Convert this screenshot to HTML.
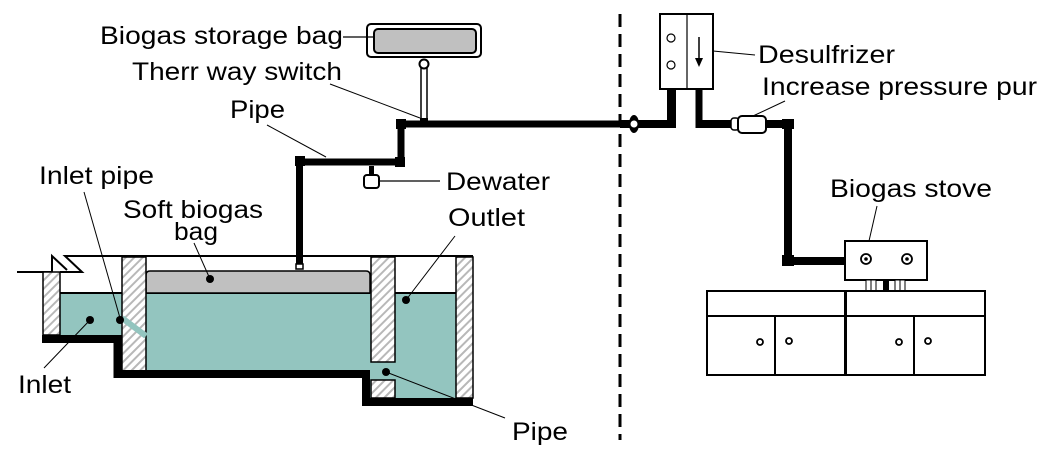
<!DOCTYPE html>
<html><head><meta charset="utf-8"><style>
html,body{margin:0;padding:0;background:#fff;}
svg{display:block;}
text{font-family:"Liberation Sans",Arial,sans-serif;font-size:25px;fill:#000;}
</style></head><body>
<svg width="1053" height="467" viewBox="0 0 1053 467" xmlns="http://www.w3.org/2000/svg">
<defs>
<pattern id="h" width="6" height="6" patternUnits="userSpaceOnUse" patternTransform="rotate(45)">
<rect width="6" height="6" fill="#fff"/><rect width="2" height="6" fill="#b8b8b8"/>
</pattern>
</defs>
<!-- tank -->
<polyline points="473,256 65,256 82,272 60,272" fill="none" stroke="#000" stroke-width="2"/>
<polyline points="17,272 52,272 52,256 67,270" fill="none" stroke="#000" stroke-width="2"/>
<rect x="60" y="293" width="62" height="42" fill="#93c5bf"/>
<rect x="146" y="293" width="224" height="78" fill="#93c5bf"/>
<rect x="370" y="293" width="86" height="105" fill="#93c5bf"/>
<line x1="60" y1="293" x2="122" y2="293" stroke="#000" stroke-width="2"/>
<line x1="146" y1="293" x2="370" y2="293" stroke="#000" stroke-width="2"/>
<line x1="395" y1="293" x2="456" y2="293" stroke="#000" stroke-width="2"/>
<path d="M146,293 V275 Q146,271 150,271 H366 Q370,271 370,275 V293 Z" fill="#c0c0c0" stroke="#000" stroke-width="1.5"/>
<rect x="43" y="272" width="17" height="63" fill="url(#h)" stroke="#000" stroke-width="1.5"/>
<rect x="122" y="257" width="24" height="114" fill="url(#h)" stroke="#000" stroke-width="1.5"/>
<rect x="371" y="257" width="24" height="105" fill="url(#h)" stroke="#000" stroke-width="1.5"/>
<rect x="371" y="380" width="24" height="18" fill="url(#h)" stroke="#000" stroke-width="1.5"/>
<rect x="456" y="257" width="17" height="141" fill="url(#h)" stroke="#000" stroke-width="1.5"/>
<line x1="122" y1="318" x2="146" y2="336" stroke="#93c5bf" stroke-width="6"/>
<polyline points="42,339 117.5,339 117.5,374 366,374 366,402 473,402" fill="none" stroke="#000" stroke-width="8"/>
<!-- dots -->
<g fill="#000"><circle cx="90" cy="320" r="4"/><circle cx="120" cy="320" r="4"/><circle cx="210" cy="279" r="4"/><circle cx="406" cy="300" r="4"/><circle cx="386" cy="372" r="4"/></g>
<!-- pipes left -->
<polyline points="299.5,268 299.5,162 401,162 401,124 620,124" fill="none" stroke="#000" stroke-width="7"/>
<rect x="295" y="156" width="10" height="10"/><rect x="396" y="119" width="10" height="10"/><rect x="395" y="157" width="10" height="10"/>
<rect x="296" y="264" width="7" height="5" fill="#fff" stroke="#000" stroke-width="1.5"/>
<line x1="371.5" y1="166" x2="371.5" y2="176" stroke="#000" stroke-width="5"/>
<rect x="364" y="175" width="15" height="13" rx="3" fill="#fff" stroke="#000" stroke-width="2"/>
<line x1="380" y1="181" x2="440" y2="181" stroke="#000" stroke-width="1.2"/>
<!-- storage bag -->
<rect x="367" y="24" width="114" height="33" rx="4" fill="#fff" stroke="#000" stroke-width="2"/>
<rect x="374" y="29" width="102" height="24" rx="4" fill="#c0c0c0" stroke="#000" stroke-width="2"/>
<rect x="421" y="68" width="6" height="52" fill="#fff" stroke="#000" stroke-width="1.5"/>
<circle cx="424" cy="64" r="4.5" fill="#fff" stroke="#000" stroke-width="2"/>
<rect x="420" y="118" width="8" height="6"/>
<line x1="343" y1="37" x2="374" y2="37" stroke="#000" stroke-width="1.2"/>
<!-- dashed -->
<line x1="620" y1="14" x2="620" y2="440" stroke="#000" stroke-width="3" stroke-dasharray="13,7"/>
<!-- right pipes -->
<line x1="620" y1="124" x2="672" y2="124" stroke="#000" stroke-width="8"/>
<ellipse cx="634" cy="124" rx="5" ry="9" fill="#000"/><circle cx="634" cy="124" r="3.5" fill="#fff"/>
<line x1="671.5" y1="89" x2="671.5" y2="128" stroke="#000" stroke-width="9"/>
<line x1="699" y1="89" x2="699" y2="128" stroke="#000" stroke-width="7"/>
<line x1="696" y1="124" x2="735" y2="124" stroke="#000" stroke-width="8"/>
<rect x="731" y="118" width="8" height="12" rx="3" fill="#fff" stroke="#000" stroke-width="1.5"/>
<rect x="738" y="116" width="28" height="17" rx="4" fill="#fff" stroke="#000" stroke-width="2"/>
<polyline points="766,124 788,124 788,261 845,261" fill="none" stroke="#000" stroke-width="8"/>
<rect x="782" y="119" width="12" height="10"/><rect x="782" y="255" width="12" height="11"/>
<!-- desulfrizer -->
<rect x="660" y="14" width="53" height="75" fill="#fff" stroke="#000" stroke-width="2"/>
<line x1="687" y1="14" x2="687" y2="89" stroke="#000" stroke-width="1.2"/>
<circle cx="671" cy="38" r="4" fill="none" stroke="#000" stroke-width="1.2"/>
<circle cx="671" cy="65" r="4" fill="none" stroke="#000" stroke-width="1.2"/>
<line x1="699" y1="37" x2="699" y2="62" stroke="#000" stroke-width="1.5"/>
<polygon points="695,58 703,58 699,67"/>
<line x1="713" y1="51" x2="755" y2="55" stroke="#000" stroke-width="1"/>
<line x1="753" y1="116" x2="785" y2="101" stroke="#000" stroke-width="1"/>
<!-- stove -->
<rect x="845" y="241" width="82" height="39" fill="#fff" stroke="#000" stroke-width="2"/>
<circle cx="866" cy="259" r="5" fill="none" stroke="#000" stroke-width="1.8"/><circle cx="866" cy="259" r="1.8"/>
<circle cx="907" cy="259" r="5" fill="none" stroke="#000" stroke-width="1.8"/><circle cx="907" cy="259" r="1.8"/>
<g fill="#fff" stroke="#000" stroke-width="1"><rect x="866" y="280" width="5" height="11"/><rect x="871" y="280" width="5" height="11"/><rect x="895" y="280" width="5" height="11"/><rect x="900" y="280" width="5" height="11"/></g>
<rect x="883" y="280" width="6" height="11"/>
<line x1="877" y1="206" x2="869" y2="241" stroke="#000" stroke-width="1"/>
<!-- cabinet -->
<rect x="707" y="291" width="278" height="84" fill="#fff" stroke="#000" stroke-width="2"/>
<line x1="707" y1="316" x2="985" y2="316" stroke="#000" stroke-width="2"/>
<line x1="845.5" y1="291" x2="845.5" y2="375" stroke="#000" stroke-width="3"/>
<line x1="775" y1="316" x2="775" y2="375" stroke="#000" stroke-width="2"/>
<line x1="914" y1="316" x2="914" y2="375" stroke="#000" stroke-width="2"/>
<g fill="none" stroke="#000" stroke-width="1.8"><circle cx="760" cy="342" r="3"/><circle cx="789" cy="341" r="3"/><circle cx="899" cy="342" r="3"/><circle cx="928" cy="341" r="3"/></g>
<!-- leader lines -->
<g stroke="#000" stroke-width="1" fill="none">
<line x1="330" y1="84" x2="420" y2="118"/>
<line x1="267" y1="125" x2="326" y2="157"/>
<line x1="84" y1="192" x2="120" y2="318"/>
<line x1="194" y1="243" x2="210" y2="279"/>
<line x1="455" y1="236" x2="406" y2="300"/>
<line x1="44" y1="368" x2="90" y2="320"/>
<line x1="386" y1="372" x2="505" y2="418"/>
</g>
<!-- text -->
<text x="100" y="44" textLength="243" lengthAdjust="spacingAndGlyphs">Biogas storage bag</text>
<text x="132" y="80" textLength="210" lengthAdjust="spacingAndGlyphs">Therr way switch</text>
<text x="230" y="118" textLength="55" lengthAdjust="spacingAndGlyphs">Pipe</text>
<text x="39" y="184" textLength="115" lengthAdjust="spacingAndGlyphs">Inlet pipe</text>
<text x="123" y="218" textLength="140" lengthAdjust="spacingAndGlyphs">Soft biogas</text>
<text x="174" y="240" textLength="44" lengthAdjust="spacingAndGlyphs">bag</text>
<text x="446" y="190" textLength="104" lengthAdjust="spacingAndGlyphs">Dewater</text>
<text x="448" y="226" textLength="77" lengthAdjust="spacingAndGlyphs">Outlet</text>
<text x="18" y="393" textLength="53" lengthAdjust="spacingAndGlyphs">Inlet</text>
<text x="512" y="440" textLength="56" lengthAdjust="spacingAndGlyphs">Pipe</text>
<text x="758" y="63" textLength="137" lengthAdjust="spacingAndGlyphs">Desulfrizer</text>
<text x="762" y="95" textLength="275" lengthAdjust="spacingAndGlyphs">Increase pressure pur</text>
<text x="830" y="197" textLength="162" lengthAdjust="spacingAndGlyphs">Biogas stove</text>
</svg>
</body></html>
